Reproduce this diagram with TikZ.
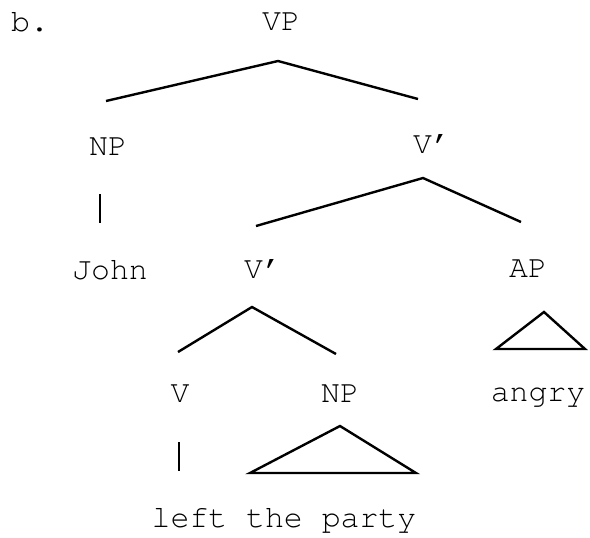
\documentclass[tikz,border=0pt]{standalone}
\usepackage[T1]{fontenc}
\usepackage{courier}
\begin{document}
\begin{tikzpicture}[x=0.5pt, y=-0.5pt, line width=1.2pt,
    nodes={font=\ttfamily\fontsize{15.75}{19}\selectfont, inner sep=0pt, anchor=base}]
    \useasboundingbox (0,0) rectangle (590,537);
    % labels
    \node (b) [anchor=base west] at (10,31) {b.};
    \node (VP) at (281,30) {VP};
    \node (NP1) at (108,155) {NP};
    \node (V1) at (432,153) {V'};
    \node (John) at (110,279) {John};
    \node (V2) at (263,278) {V'};
    \node (AP) at (528,277) {AP};
    \node (V) at (180,402) {V};
    \node (NP2) at (340,402) {NP};
    \node (angry) at (538,401) {angry};
    \node (left) at (284,527) {left the party};

    % branch points
    \coordinate (VP-top) at (278,61);
    \coordinate (VP-l) at (106,101);
    \coordinate (VP-r) at (418,99);
    \coordinate (NP1-top) at (100,194);
    \coordinate (NP1-bot) at (100,223);
    \coordinate (V1-top) at (423,178);
    \coordinate (V1-l) at (256,226);
    \coordinate (V1-r) at (521,222);
    \coordinate (V2-top) at (252,307);
    \coordinate (V2-l) at (178,352);
    \coordinate (V2-r) at (336,354);
    \coordinate (AP-top) at (544,312);
    \coordinate (AP-l) at (496,349);
    \coordinate (AP-r) at (585,349);
    \coordinate (V-top) at (179,442);
    \coordinate (V-bot) at (179,471);
    \coordinate (NP2-top) at (340,426);
    \coordinate (NP2-l) at (250,473);
    \coordinate (NP2-r) at (416,473);

    \draw (VP-l) -- (VP-top) -- (VP-r);
    \draw (NP1-top) -- (NP1-bot);
    \draw (V1-l) -- (V1-top) -- (V1-r);
    \draw (V2-l) -- (V2-top) -- (V2-r);
    \draw (AP-l) -- (AP-top) -- (AP-r) -- cycle;
    \draw (V-top) -- (V-bot);
    \draw (NP2-l) -- (NP2-top) -- (NP2-r) -- cycle;
\end{tikzpicture}
\end{document}
